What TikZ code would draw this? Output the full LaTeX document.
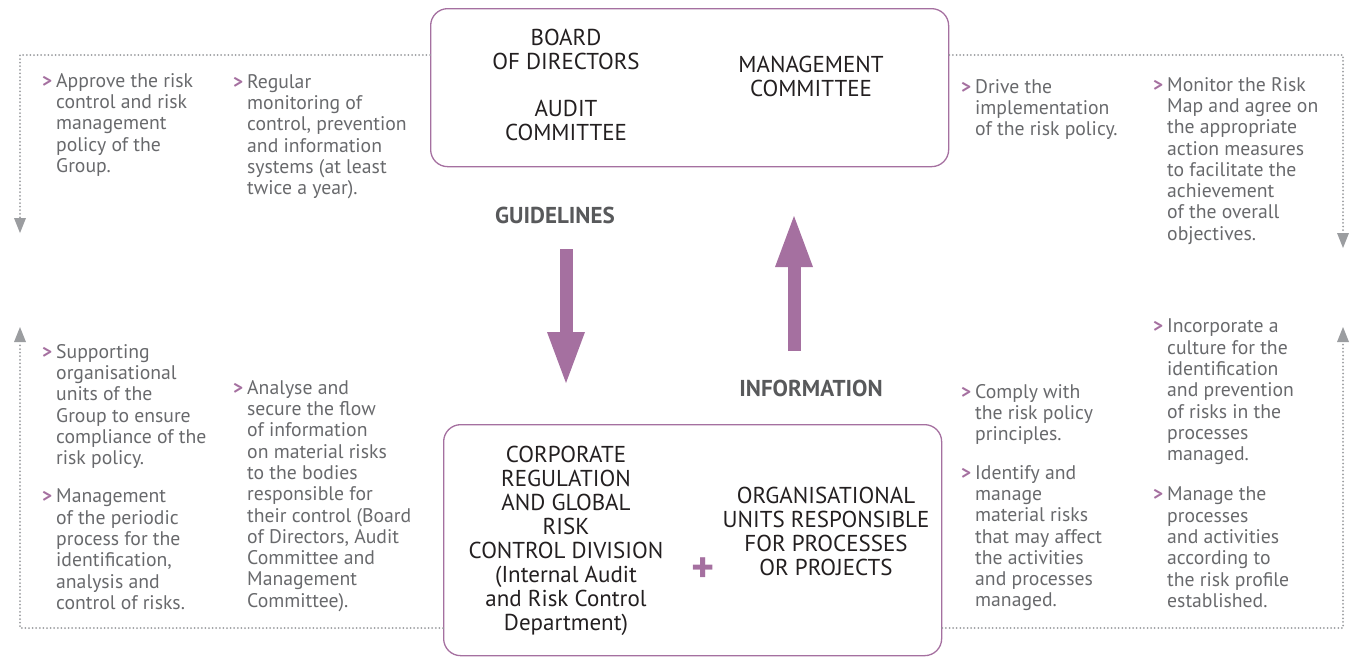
\documentclass[tikz,border=0pt]{standalone}
\usepackage{fontspec}
\setmainfont{PT Sans}
\usepackage{tikz}
\usetikzlibrary{arrows.meta}

\definecolor{accent}{RGB}{165,112,160}
\definecolor{bodygray}{RGB}{104,105,108}
\definecolor{darktext}{RGB}{35,31,32}
\definecolor{taggray}{RGB}{88,89,91}
\definecolor{dotgray}{RGB}{155,157,160}

% purple bullet hanging in front of the first line
\newcommand{\pnt}{\llap{{\color{accent}\bfseries\fontsize{19}{19}\selectfont >}\hspace{4pt}}}

\tikzset{
  panel/.style={draw=accent, line width=1.3pt, rounded corners=17pt, anchor=north west, inner sep=0pt},
  headtext/.style={text=darktext, font=\fontsize{23}{24}\selectfont, align=center, anchor=north, inner sep=0pt},
  bodytext/.style={text=bodygray, font=\fontsize{19.7}{21.3}\selectfont, align=left, anchor=north west, inner sep=0pt},
  tagtext/.style={text=taggray, font=\bfseries\fontsize{23}{24}\selectfont, inner sep=0pt},
  dotline/.style={dotgray, line width=2pt, line cap=round, dash pattern=on 0pt off 3.6pt,
    -{Triangle[width=12pt,length=15pt,line width=0pt]}},
  fatarrow/.style={accent, line width=13pt, -{Triangle[width=38pt,length=51pt,line width=0pt]}},
}

\begin{document}
\begin{tikzpicture}[x=1pt,y=-1pt] % y grows downwards
\useasboundingbox (0,0) rectangle (1352,656);

% the two panels
\node[panel, minimum width=518pt, minimum height=158pt] (topbox) at (430,8) {};
\node[panel, minimum width=498pt, minimum height=231pt] (botbox) at (443,424) {};

\node[headtext] (board) at (566,29) {BOARD\\OF DIRECTORS};
\node[headtext] (audit) at (566,100) {AUDIT\\COMMITTEE};
\node[headtext] (mgmt) at (811,56) {MANAGEMENT\\COMMITTEE};

\node[headtext] (riskdiv) at (566,446) {CORPORATE\\REGULATION\\AND GLOBAL\\RISK\\CONTROL DIVISION\\(Internal Audit\\and Risk Control\\Department)};
\node[headtext] (orgunits) at (826,487) {ORGANISATIONAL\\UNITS RESPONSIBLE\\FOR PROCESSES\\OR PROJECTS};
\node[text=accent, font=\bfseries\fontsize{44}{44}\selectfont, inner sep=0pt] (plus) at (703,570) {+};

% guidelines down, information up
\node[tagtext] (guide) at (555,215) {GUIDELINES};
\node[tagtext] (info) at (811,388) {INFORMATION};
\coordinate (gstart) at (566,249);
\coordinate (gend) at (566,383);
\coordinate (istart) at (794,351);
\coordinate (iend) at (794,216);
\draw[fatarrow] (gstart) -- (gend);
\draw[fatarrow] (istart) -- (iend);

% dotted loops round the texts
\coordinate (tl) at (20,55);
\coordinate (tlend) at (20,233);
\coordinate (tr) at (1343,55);
\coordinate (trend) at (1343,248);
\coordinate (bl) at (20,628);
\coordinate (blend) at (20,327);
\coordinate (br) at (1343,628);
\coordinate (brend) at (1343,327);
\draw[dotline] (topbox.west |- tl) -- (tl) -- (tlend);
\draw[dotline] (topbox.east |- tr) -- (tr) -- (trend);
\draw[dotline] (botbox.west |- bl) -- (bl) -- (blend);
\draw[dotline] (botbox.east |- br) -- (br) -- (brend);

% upper texts
\node[bodytext] (approve) at (56,73) {\pnt Approve the risk\\control and risk\\management\\policy of the\\Group.};
\node[bodytext] (regular) at (247,74) {\pnt Regular\\monitoring of\\control, prevention\\and information\\systems (at least\\twice a year).};
\node[bodytext] (drive) at (975,79) {\pnt Drive the\\implementation\\of the risk policy.};
\node[bodytext] (monitor) at (1167,77) {\pnt Monitor the Risk\\Map and agree on\\the appropriate\\action measures\\to facilitate the\\achievement\\of the overall\\objectives.};

% lower texts
\node[bodytext] (support) at (56,344) {\pnt Supporting\\organisational\\units of the\\Group to ensure\\compliance of the\\risk policy.};
\node[bodytext] (periodic) at (56,489) {\pnt Management\\of the periodic\\process for the\\identification,\\analysis and\\control of risks.};
\node[bodytext] (analyse) at (247,380) {\pnt Analyse and\\secure the flow\\of information\\on material risks\\to the bodies\\responsible for\\their control (Board\\of Directors, Audit\\Committee and\\Management\\Committee).};
\node[bodytext] (comply) at (975,384) {\pnt Comply with\\the risk policy\\principles.};
\node[bodytext] (identify) at (975,465) {\pnt Identify and\\manage\\material risks\\that may affect\\the activities\\and processes\\managed.};
\node[bodytext] (culture) at (1167,319) {\pnt Incorporate a\\culture for the\\identification\\and prevention\\of risks in the\\processes\\managed.};
\node[bodytext] (manage) at (1167,487) {\pnt Manage the\\processes\\and activities\\according to\\the risk profile\\established.};
\end{tikzpicture}
\end{document}
